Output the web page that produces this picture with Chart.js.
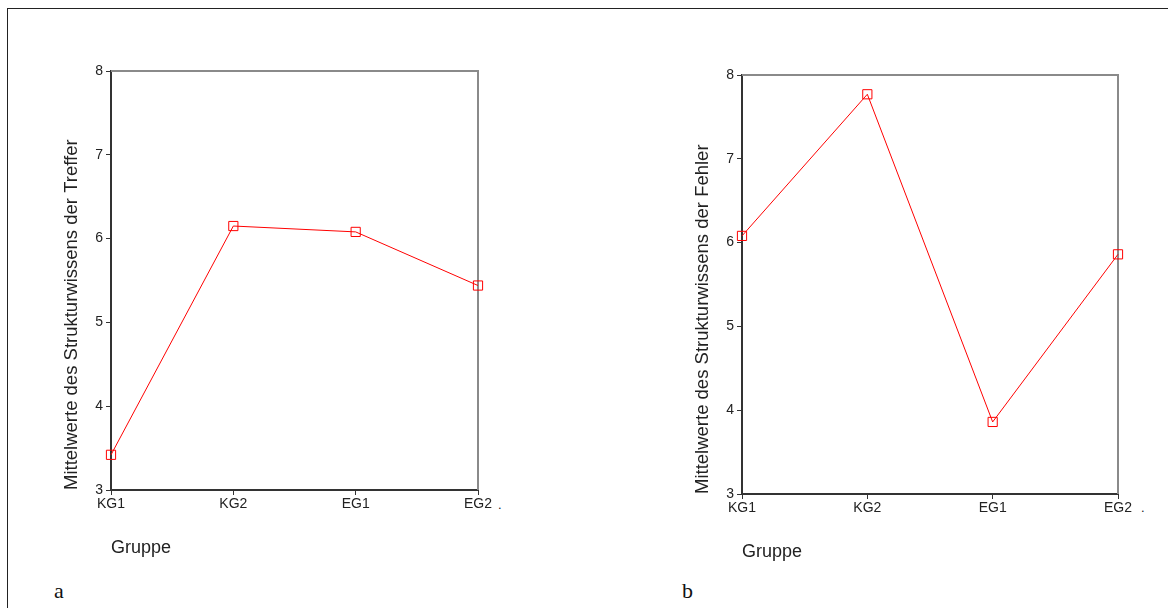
<!doctype html>
<html lang="de">
<head>
    <meta charset="utf-8">
    <title>Mittelwerte Strukturwissen</title>
    <script src="https://cdn.jsdelivr.net/npm/chart.js"></script>
    <style>
        body { margin: 0; background: #fff; font-family: "Liberation Sans", Arial, sans-serif; }
        #page { position: relative; width: 1168px; height: 608px; overflow: hidden; }
        #frame { position: absolute; left: 7px; top: 8px; width: 1170px; height: 610px;
                 border-top: 1.5px solid #222; border-left: 1.5px solid #222; }
        canvas { position: absolute; }
        .lbl { position: absolute; font-family: "Liberation Serif", "Times New Roman", serif; font-size: 22px; color: #111; }
        .dot { position: absolute; font-size: 13px; color: #222; }
    </style>
</head>
<body>
<div id="page">
    <div id="frame"></div>
    <canvas id="chartA" width="437" height="507" style="left: 60.7px; top: 56px;"></canvas>
    <canvas id="chartB" width="446" height="507" style="left: 692.3px; top: 60px;"></canvas>
    <span class="dot" style="left: 498px; top: 497px;">.</span>
    <span class="dot" style="left: 1141px; top: 500px;">.</span>
    <span class="lbl" style="left: 54px; top: 578px;">a</span>
    <span class="lbl" style="left: 682px; top: 578px;">b</span>
</div>

<script>
    // Daten
    const gruppen = ['KG1', 'KG2', 'EG1', 'EG2'];
    const treffer = [3.42, 6.15, 6.08, 5.44];
    const fehler = [6.08, 7.77, 3.86, 5.86];
    const yMin = 3;
    const yMax = 8;

    const font = "'Liberation Sans', Arial, sans-serif";

    // duenner grauer Rahmen oben und rechts
    const boxLines = {
        id: 'boxLines',
        beforeDatasetsDraw(chart) {
            const ctx = chart.ctx;
            const a = chart.chartArea;
            ctx.save();
            ctx.strokeStyle = '#8a8a8a';
            ctx.lineWidth = 2;
            ctx.beginPath();
            ctx.moveTo(a.left, a.top);
            ctx.lineTo(a.right, a.top);
            ctx.lineTo(a.right, a.bottom);
            ctx.stroke();
            ctx.restore();
        }
    };

    function makeConfig(values, yTitle) {
        return {
            type: 'line',
            data: {
                labels: gruppen,
                datasets: [{
                    data: values,
                    borderColor: '#ff0000',
                    borderWidth: 1,
                    tension: 0,
                    pointStyle: 'rect',
                    pointRadius: 6.5,
                    pointBorderWidth: 1,
                    pointBorderColor: '#ff0000',
                    pointBackgroundColor: 'rgba(0,0,0,0)',
                    clip: false
                }]
            },
            options: {
                responsive: false,
                animation: false,
                layout: { padding: { top: 15, right: 20, bottom: 0, left: 0 } },
                plugins: { legend: { display: false }, tooltip: { enabled: false } },
                scales: {
                    x: {
                        offset: false,
                        afterFit: function (scale) { scale.height = 73; },
                        grid: { drawOnChartArea: false, drawTicks: true, tickLength: 5, color: '#333' },
                        border: { color: '#333', width: 2 },
                        ticks: { color: '#222', padding: 1, maxRotation: 0, font: { family: font, size: 14 } },
                        title: {
                            display: true, text: 'Gruppe', align: 'start', color: '#222',
                            padding: { top: 0, bottom: 4 }, font: { family: font, size: 18 }
                        }
                    },
                    y: {
                        min: yMin,
                        max: yMax,
                        afterFit: function (scale) { scale.width = 50; },
                        grid: { drawOnChartArea: false, drawTicks: true, tickLength: 5, color: '#333' },
                        border: { color: '#333', width: 2 },
                        ticks: { stepSize: 1, color: '#222', padding: 3, font: { family: font, size: 14 } },
                        title: {
                            display: true, text: yTitle, align: 'start', color: '#222',
                            padding: 0, font: { family: font, size: 18.5 }
                        }
                    }
                }
            },
            plugins: [boxLines]
        };
    }

    const chartA = new Chart(
        document.getElementById('chartA'),
        makeConfig(treffer, 'Mittelwerte des Strukturwissens der Treffer')
    );

    const chartB = new Chart(
        document.getElementById('chartB'),
        makeConfig(fehler, 'Mittelwerte des Strukturwissens der Fehler')
    );
</script>
</body>
</html>
